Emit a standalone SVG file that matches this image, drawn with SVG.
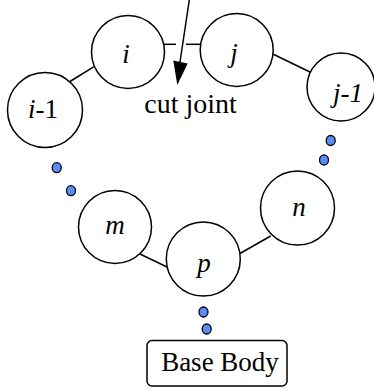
<svg xmlns="http://www.w3.org/2000/svg" width="374" height="390" viewBox="0 0 374 390">
<style>
.node{fill:#fff;stroke:#000;stroke-width:1.5}
.lbl{font-family:'Liberation Serif',serif;font-size:27px;fill:#000}
.it{font-style:italic}
.dot{fill:#5b8cf5;stroke:#000;stroke-width:1.3}
.edge{stroke:#000;stroke-width:1.5;fill:none}
</style>
<g id="connectors">
<line class="edge" x1="70" y1="81.5" x2="94" y2="66.7"/>
<line class="edge" x1="163" y1="44.3" x2="176" y2="44.3"/>
<line class="edge" x1="186" y1="44.3" x2="200" y2="44.3"/>
<line class="edge" x1="273.3" y1="54.3" x2="311" y2="72.5"/>
<line class="edge" x1="140" y1="254" x2="167.5" y2="267.3"/>
<line class="edge" x1="237.3" y1="255" x2="270.7" y2="236"/>
<line x1="189.3" y1="0" x2="180" y2="62" stroke="#000" stroke-width="1.5"/>
<polygon points="173.3,60.5 187.7,63.5 177.3,85" fill="#000"/>
</g>
<g id="dots">
<ellipse class="dot" cx="56.7" cy="167.7" rx="4.5" ry="5"/>
<ellipse class="dot" cx="71" cy="190.7" rx="4.5" ry="5"/>
<ellipse class="dot" cx="330.7" cy="140.5" rx="4.5" ry="5"/>
<ellipse class="dot" cx="324" cy="160" rx="4.5" ry="5"/>
<ellipse class="dot" cx="203.5" cy="312" rx="4.5" ry="5"/>
<ellipse class="dot" cx="206.7" cy="329" rx="4.5" ry="5"/>
</g>
<g id="node-i">
<circle class="node" cx="128" cy="52" r="36.5"/>
<text class="lbl it" x="126" y="63" text-anchor="middle">i</text>
</g>
<g id="node-j">
<circle class="node" cx="236.7" cy="50" r="36.5"/>
<text class="lbl it" x="234" y="62" text-anchor="middle">j</text>
</g>
<g id="node-i-1">
<circle class="node" cx="45" cy="110" r="37.5"/>
<text class="lbl" x="43" y="118.3" text-anchor="middle"><tspan class="it">i</tspan>-1</text>
</g>
<g id="node-j-1">
<circle class="node" cx="341" cy="87" r="34"/>
<text class="lbl it" x="348" y="101.7" text-anchor="middle">j-1</text>
</g>
<g id="node-m">
<circle class="node" cx="115" cy="227" r="36.5"/>
<text class="lbl it" x="115" y="234" text-anchor="middle">m</text>
</g>
<g id="node-n">
<circle class="node" cx="297.5" cy="208" r="37"/>
<text class="lbl it" x="299" y="216" text-anchor="middle">n</text>
</g>
<g id="node-p">
<circle class="node" cx="203.3" cy="259" r="37"/>
<text class="lbl it" x="204" y="272" text-anchor="middle">p</text>
</g>
<g id="cut-label">
<text class="lbl" x="190.5" y="113.3" text-anchor="middle" style="font-size:28px">cut joint</text>
</g>
<g id="base-body">
<rect x="147" y="340.5" width="140" height="45.5" rx="5" ry="5" fill="#fff" stroke="#000" stroke-width="1.5"/>
<text class="lbl" x="220" y="370.5" text-anchor="middle">Base Body</text>
</g>
</svg>
